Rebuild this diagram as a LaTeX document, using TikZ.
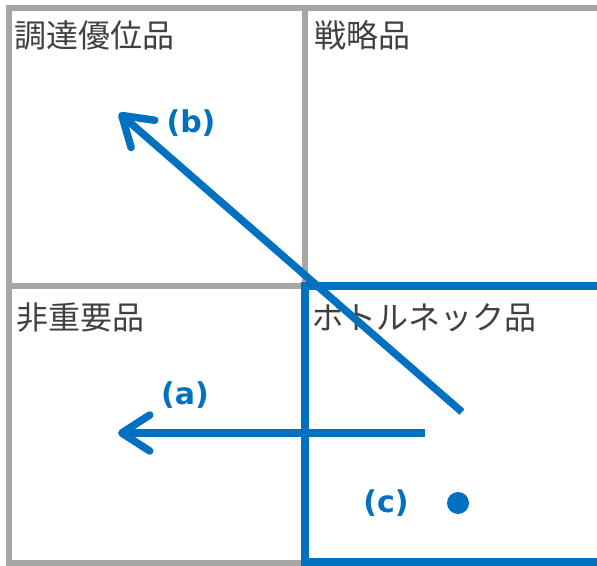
\documentclass[tikz,border=0pt]{standalone}
\usepackage{fontspec}
\setmainfont{DejaVu Sans}
\newfontfamily\jpfont{Noto Sans CJK JP}
\usetikzlibrary{arrows.meta}
\definecolor{accent}{HTML}{0070C0}
\definecolor{gridc}{HTML}{A6A6A6}
\definecolor{txt}{HTML}{404040}
\begin{document}
\begin{tikzpicture}[x=1pt,y=-1pt,
  q/.style={anchor=west,inner sep=0pt,text=txt,font=\jpfont\fontsize{32}{34}\selectfont},
  lbl/.style={text=accent,inner sep=0pt,font=\bfseries\fontsize{30}{32}\selectfont},
  mv/.style={accent,line width=7.5pt,-{Straight Barb[round,length=28pt,width=36pt]}},
  dot/.style={circle,fill=accent,inner sep=0pt,minimum size=22pt}]
\useasboundingbox (0,0) rectangle (597,565);
\clip (0,0) rectangle (597,565);
% matrix grid
\draw[gridc,line width=5.5pt] (9,8) rectangle (620,563);
\draw[gridc,line width=5.5pt] (305,8) -- (305,563) (9,286) -- (620,286);
% quadrant names
\node[q] (buy) at (14,35) {調達優位品};
\node[q] (strat) at (314,35) {戦略品};
\node[q] (non) at (16,318) {非重要品};
\node[q] (bottle) at (312,318) {ボトルネック品};
% bottleneck box
\draw[accent,line width=7.5pt] (620,286) -- (305,286) -- (305,562) -- (620,562);
% moves
\coordinate (a0) at (425,433);
\coordinate (a1) at (118,433);
\coordinate (b0) at (462,412);
\coordinate (b1) at (119,113);
\draw[mv] (a0) -- (a1);
\draw[mv] (b0) -- (b1);
\node[lbl] (la) at (185,395) {(a)};
\node[lbl] (lb) at (191,123) {(b)};
\node[lbl] (lc) at (386,503) {(c)};
\node[dot] (pc) at (458,503) {};
\end{tikzpicture}
\end{document}
